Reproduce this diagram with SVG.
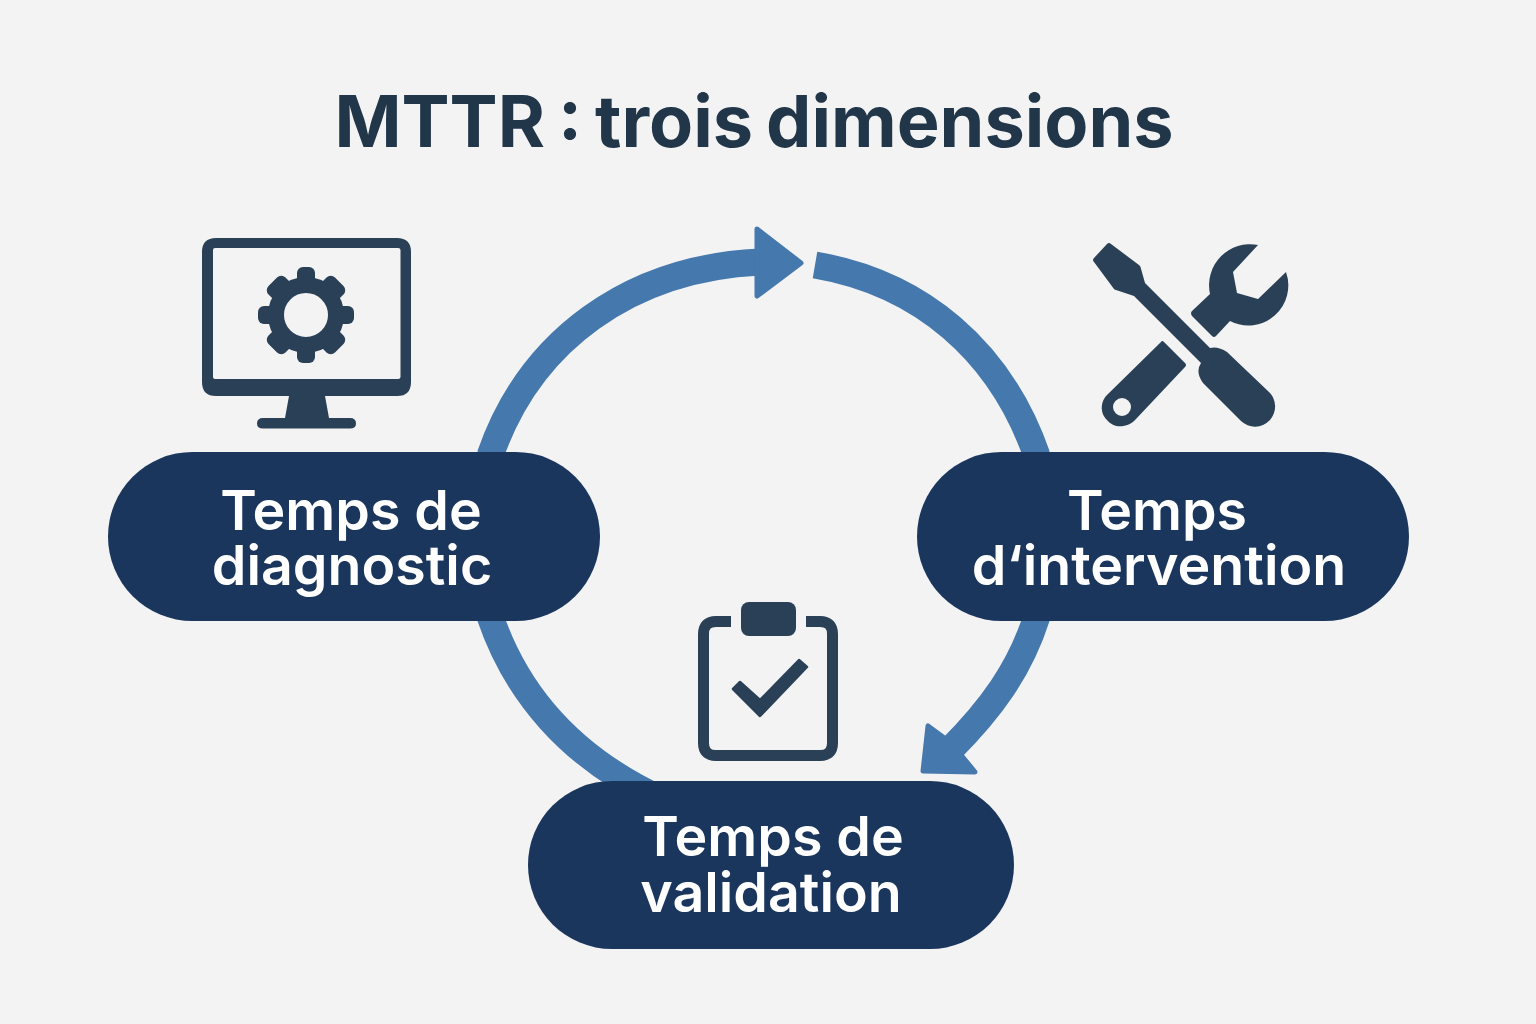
<svg xmlns="http://www.w3.org/2000/svg" width="1536" height="1024" viewBox="0 0 1536 1024">
<defs><style>
.t{font-family:Inter,"Liberation Sans",sans-serif;text-anchor:middle}
.title{font-size:72px;font-weight:700;fill:#22364a;word-spacing:-4px}
.lab{font-size:55.500px;font-weight:600;fill:#fff}
.pill{fill:#1b365d}
.arc{fill:none;stroke:#4578ad;stroke-width:27}
.head{fill:#4578ad;stroke:#4578ad;stroke-width:5;stroke-linejoin:round}
.ic{fill:#2a4056}
.icl{fill:none;stroke:#2a4056}
</style></defs>
<rect width="1536" height="1024" fill="#f3f3f4"/>
<text class="t title" x="754" y="147">MTTR : trois dimensions</text>
<g id="connectors">
<path class="arc" d="M490 456C530 340 630 268 760 262"/>
<polygon class="head" points="757,229 801,263 757,296"/>
<path class="arc" d="M815 265C920 283 1000 350 1037 456"/>
<path class="arc" d="M1037 616C1020 670 990 710 950 750"/>
<polygon class="head" points="928,726 923,771 975,772 961,755 943,737"/>
<path class="arc" d="M490 616C515 690 568 756 660 799"/>
</g>
<g id="icon-monitor">
<path class="ic" fill-rule="evenodd" d="M216 238H397Q411 238 411 252V382Q411 396 397 396H325L329 418H350Q356 418 356 423.500Q356 428.500 350 428.500H263Q257 428.500 257 423.500Q257 418 263 418H285L289 396H216Q202 396 202 382V252Q202 238 216 238ZM215 248Q213 248 213 250V377Q213 379 215 379H398Q400.500 379 400.500 377V250Q400.500 248 398 248Z"/>
<circle class="icl" cx="306" cy="315" r="30" stroke-width="16"/>
<g class="ic">
<rect x="297" y="267" width="18" height="24" rx="6"/>
<rect x="294" y="268" width="24" height="24" rx="6" transform="rotate(45 306 315)"/>
<rect x="297" y="267" width="18" height="24" rx="6" transform="rotate(90 306 315)"/>
<rect x="294" y="268" width="24" height="24" rx="6" transform="rotate(135 306 315)"/>
<rect x="297" y="267" width="18" height="24" rx="6" transform="rotate(180 306 315)"/>
<rect x="294" y="268" width="24" height="24" rx="6" transform="rotate(225 306 315)"/>
<rect x="297" y="267" width="18" height="24" rx="6" transform="rotate(270 306 315)"/>
<rect x="294" y="268" width="24" height="24" rx="6" transform="rotate(315 306 315)"/>
</g>
</g>
<g id="icon-tools">
<path class="ic" d="M1107 244Q1109 242 1111 244L1139 265Q1140 266 1140.500 267L1145 283L1210 348Q1218 346 1227 352L1269 392A20 20 0 0 1 1241 421L1203 383Q1195 372 1201 363L1136 298Q1135 297 1134 296L1116 290Q1115 290 1114 289L1094 262Q1092 260 1094 258Z"/>
<path class="ic" d="M1258 245L1233 272L1237 293L1258 299L1286 272A40 40 0 0 1 1230 321L1216 336Q1214 338 1212 336L1192 316Q1190 313 1192 311L1210 294A41 41 0 0 1 1258 245Z"/>
<path class="ic" fill-rule="evenodd" d="M1161 342Q1162 340 1164 342L1185 363Q1187 365 1185 367L1136 419C1128 428 1114 429 1107 420C1099 412 1101 400 1108 394ZM1122 398A9 9 0 1 0 1122 416A9 9 0 1 0 1122 398Z"/>
</g>
<g id="icon-clipboard">
<path class="icl" stroke-width="11" d="M731 621.500H716Q703.500 621.500 703.500 634V743Q703.500 755.500 716 755.500H820Q832.500 755.500 832.500 743V634Q832.500 621.500 820 621.500H806"/>
<rect class="ic" x="741" y="602" width="55" height="34" rx="8"/>
<polygon class="ic" points="733,689 740,682 760,700 799,660 807,667 760,716" stroke="#2a4056" stroke-width="2.500" stroke-linejoin="round"/>
</g>
<g id="node-diagnostic">
<rect class="pill" x="108" y="452" width="492" height="169" rx="84.500"/>
<text class="t lab" x="351" y="530">Temps de</text>
<text class="t lab" x="352" y="585">diagnostic</text>
</g>
<g id="node-intervention">
<rect class="pill" x="917" y="452" width="492" height="169" rx="84.500"/>
<text class="t lab" x="1157" y="530">Temps</text>
<text class="t lab" x="1159" y="585">d‘intervention</text>
</g>
<g id="node-validation">
<rect class="pill" x="528" y="781" width="486" height="168" rx="84"/>
<text class="t lab" x="773" y="856">Temps de</text>
<text class="t lab" x="771" y="912">validation</text>
</g>
</svg>
